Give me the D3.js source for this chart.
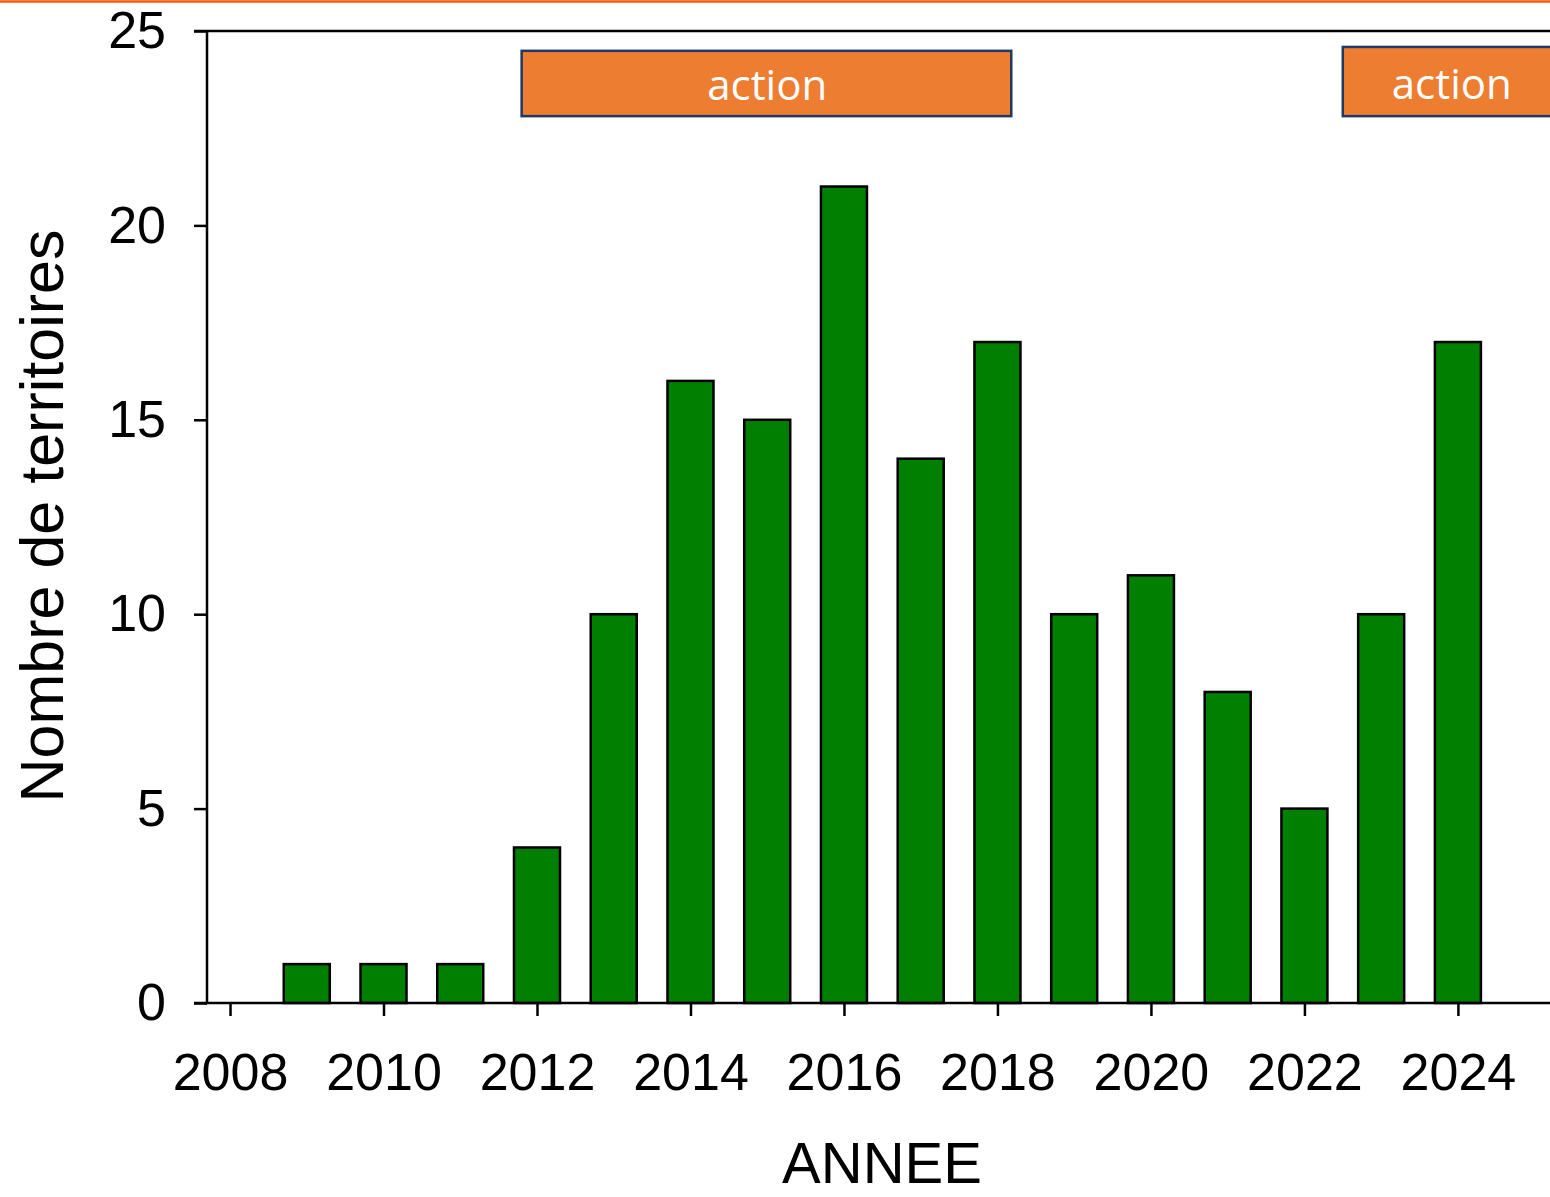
<!DOCTYPE html>
<html>
<head>
<meta charset="utf-8">
<script src="https://cdn.jsdelivr.net/npm/d3@7"></script>
<style>
  body { margin: 0; background: #fff; }
  svg { display: block; }
  .tick text { font-family: "Liberation Sans", Arial, sans-serif; }
</style>
</head>
<body>
<script>
// données
var annees = [2009, 2010, 2011, 2012, 2013, 2014, 2015, 2016, 2017, 2018, 2019, 2020, 2021, 2022, 2023, 2024];
var territoires = [1, 1, 1, 4, 10, 16, 15, 21, 14, 17, 10, 11, 8, 5, 10, 17];
var anneeTicks = [2008, 2010, 2012, 2014, 2016, 2018, 2020, 2022, 2024];
var yTicks = [0, 5, 10, 15, 20, 25];

// périodes "action"
var actionDebut = [2011.8, 2022.5];
var actionFin = [2018.18, 2025.6];
var actionHaut = [24.49, 24.59];
var actionBas = [22.81, 22.81];
var actionLabel = ["action", "action"];
var actionTexteX = [2015, 2023.92];

var width = 1550, height = 1197;
var margin = {top: 31, right: 0, bottom: 194, left: 207};

var svg = d3.select("body").append("svg")
    .attr("width", width)
    .attr("height", height);

var x = d3.scaleLinear()
    .domain([2007.7, 2025.2])
    .range([margin.left, width - margin.right]);

var y = d3.scaleLinear()
    .domain([0, 25])
    .range([height - margin.bottom, margin.top]);

var barW = 46;

// ligne orange en haut
svg.append("line")
    .attr("x1", 0).attr("x2", width)
    .attr("y1", 1.5).attr("y2", 1.5)
    .attr("stroke", "#ff5a0a")
    .attr("stroke-width", 2.5);

// barres
svg.append("g")
    .selectAll("rect")
    .data(annees)
    .enter()
    .append("rect")
    .attr("x", function(d) { return x(d) - barW / 2; })
    .attr("y", function(d, i) { return y(territoires[i]); })
    .attr("width", barW)
    .attr("height", function(d, i) { return y(0) - y(territoires[i]); })
    .attr("fill", "#007f00")
    .attr("stroke", "#000")
    .attr("stroke-width", 2.5);

// axe x
var xAxis = d3.axisBottom(x)
    .tickValues(anneeTicks)
    .tickSize(13)
    .tickPadding(37)
    .tickFormat(d3.format("d"));

var gx = svg.append("g")
    .attr("transform", "translate(0," + y(0) + ")")
    .call(xAxis);
gx.select(".domain").remove();
gx.selectAll(".tick line").attr("stroke", "#000").attr("stroke-width", 2.5);
gx.selectAll(".tick text").attr("font-size", 52).attr("fill", "#000");

// axe y
var yAxis = d3.axisLeft(y)
    .tickValues(yTicks)
    .tickSize(13)
    .tickPadding(28);

var gy = svg.append("g")
    .attr("transform", "translate(" + margin.left + ",0)")
    .call(yAxis);
gy.select(".domain").remove();
gy.selectAll(".tick line").attr("stroke", "#000").attr("stroke-width", 2.5);
gy.selectAll(".tick text").attr("font-size", 52).attr("fill", "#000");

// lignes du cadre
svg.append("line")
    .attr("x1", margin.left).attr("x2", margin.left)
    .attr("y1", y(25)).attr("y2", y(0))
    .attr("stroke", "#000").attr("stroke-width", 2.5);
svg.append("line")
    .attr("x1", margin.left - 13).attr("x2", width)
    .attr("y1", y(0)).attr("y2", y(0))
    .attr("stroke", "#000").attr("stroke-width", 2.5);
svg.append("line")
    .attr("x1", margin.left - 13).attr("x2", width)
    .attr("y1", y(25)).attr("y2", y(25))
    .attr("stroke", "#000").attr("stroke-width", 2.5);

// boîtes action
var actions = svg.append("g")
    .selectAll("g")
    .data(actionDebut)
    .enter()
    .append("g");

actions.append("rect")
    .attr("x", function(d) { return x(d); })
    .attr("y", function(d, i) { return y(actionHaut[i]); })
    .attr("width", function(d, i) { return x(actionFin[i]) - x(d); })
    .attr("height", function(d, i) { return y(actionBas[i]) - y(actionHaut[i]); })
    .attr("fill", "#ed7d31")
    .attr("stroke", "#1f3864")
    .attr("stroke-width", 2.5);

actions.append("text")
    .attr("x", function(d, i) { return x(actionTexteX[i]); })
    .attr("y", function(d, i) { return (y(actionHaut[i]) + y(actionBas[i])) / 2 + 17; })
    .attr("text-anchor", "middle")
    .attr("font-family", "'Open Sans', sans-serif")
    .attr("font-size", 42)
    .attr("fill", "#fff")
    .text(function(d, i) { return actionLabel[i]; });

// titres des axes
svg.append("text")
    .attr("x", (x(2008) + width) / 2 - 8)
    .attr("y", 1183)
    .attr("text-anchor", "middle")
    .attr("font-family", "'Liberation Sans', Arial, sans-serif")
    .attr("font-size", 58)
    .attr("fill", "#000")
    .text("ANNEE");

svg.append("text")
    .attr("transform", "translate(63," + 516 + ") rotate(-90)")
    .attr("text-anchor", "middle")
    .attr("font-family", "'Liberation Sans', Arial, sans-serif")
    .attr("font-size", 61)
    .attr("fill", "#000")
    .text("Nombre de territoires");
</script>
</body>
</html>
